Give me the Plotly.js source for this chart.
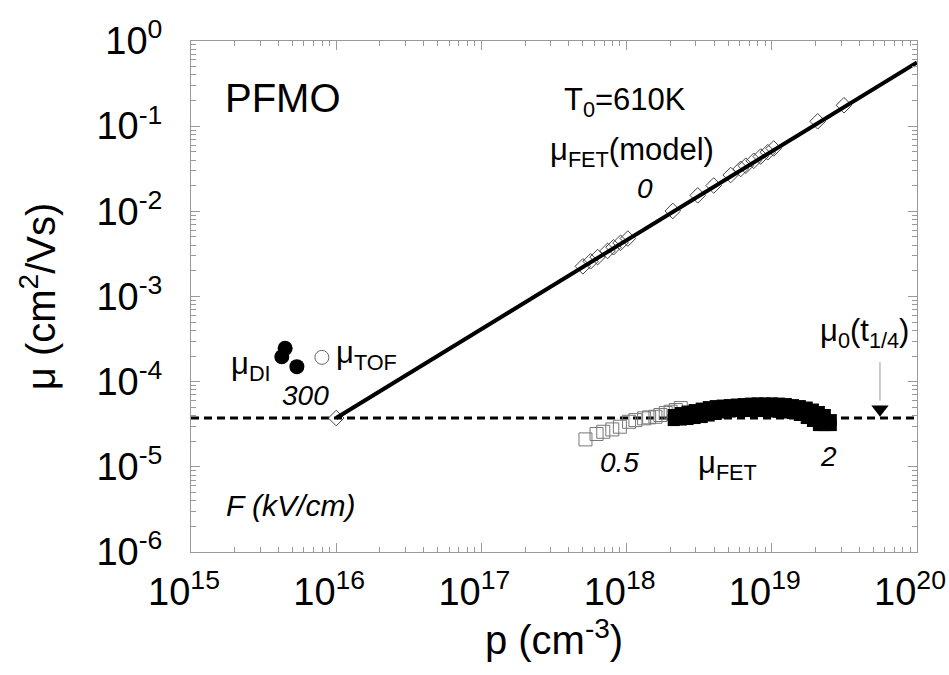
<!DOCTYPE html>
<html>
<head>
<meta charset="utf-8">
<script src="https://cdn.plot.ly/plotly-3.0.1.min.js"></script>
<style>html,body{margin:0;padding:0;background:#fff;}#chart{width:949px;height:675px;}</style>
</head>
<body>
<div id="chart"></div>
<script>
// ---- data ----
// model line mu_FET(model), T0 = 610 K
var modelLineP = [1e16, 1e20];
var modelLineMu = [3.74e-5, 0.56];

// diamonds on the model line
var modelP = [1e16, 5.0e17, 5.65e17, 6.31e17, 7.39e17, 8.13e17, 9.09e17, 1.02e18, 2.08e18, 3.09e18, 3.98e18,
  5.21e18, 6.11e18, 6.62e18, 7.51e18, 8.39e18, 9.38e18, 1.03e19, 2.07e19, 3.14e19];
var modelMu = [3.74e-5, 2.26e-3, 2.59e-3, 2.90e-3, 3.43e-3, 3.79e-3, 4.27e-3, 4.79e-3, 1.01e-2, 1.54e-2, 2.01e-2,
  2.67e-2, 3.15e-2, 3.43e-2, 3.92e-2, 4.40e-2, 4.94e-2, 5.47e-2, 0.114, 0.176];

// mu_0(t_1/4) level (dashed)
var mu0P = [1e15, 1e20];
var mu0Mu = [3.74e-5, 3.74e-5];

// measured mu_FET, open squares (low field)
var fetOpenP = [5.21e17, 6.21e17, 6.91e17, 7.97e17, 8.99e17, 1.04e18, 1.15e18, 1.32e18, 1.43e18, 1.58e18,
  1.71e18, 1.86e18, 2.01e18, 2.18e18, 2.36e18];
var fetOpenMu = [2.10e-5, 2.43e-5, 2.58e-5, 2.75e-5, 2.96e-5, 3.38e-5, 3.54e-5, 3.71e-5, 3.81e-5, 3.87e-5,
  4.06e-5, 4.28e-5, 4.44e-5, 4.64e-5, 4.90e-5];

// measured mu_FET, filled squares
var fetFillP = [2.11e18, 2.36e18, 2.63e18, 2.94e18, 3.29e18, 3.68e18, 4.11e18, 4.59e18, 5.13e18, 5.74e18,
  6.41e18, 7.17e18, 8.01e18, 8.95e18, 1.00e19, 1.12e19, 1.25e19, 1.40e19, 1.56e19, 1.74e19,
  1.92e19, 2.11e19, 2.32e19, 2.55e19,
  2.11e18, 2.36e18, 2.63e18, 2.94e18, 3.29e18, 3.68e18, 4.11e18, 4.59e18, 5.13e18, 5.74e18,
  6.41e18, 7.17e18, 8.01e18, 8.95e18, 1.00e19, 1.12e19, 1.25e19, 1.40e19, 1.56e19, 1.74e19,
  1.92e19, 2.11e19, 2.32e19, 2.55e19];
var fetFillMu = [4.06e-5, 4.28e-5, 4.46e-5, 4.64e-5, 4.83e-5, 5.03e-5, 5.17e-5, 5.24e-5, 5.31e-5, 5.39e-5,
  5.46e-5, 5.53e-5, 5.56e-5, 5.56e-5, 5.56e-5, 5.53e-5, 5.46e-5, 5.31e-5, 5.17e-5, 4.97e-5,
  4.71e-5, 4.40e-5, 4.06e-5, 3.54e-5,
  3.54e-5, 3.59e-5, 3.64e-5, 3.74e-5, 3.84e-5, 4.00e-5, 4.17e-5, 4.34e-5, 4.46e-5, 4.52e-5,
  4.52e-5, 4.52e-5, 4.52e-5, 4.52e-5, 4.46e-5, 4.43e-5, 4.34e-5, 4.28e-5, 4.06e-5, 3.74e-5,
  3.45e-5, 3.09e-5, 3.09e-5, 3.09e-5];

// mu_DI (filled circles) and mu_TOF (open circle)
var diP = [4.45e15, 4.22e15, 5.36e15];
var diMu = [2.46e-4, 1.96e-4, 1.50e-4];
var tofP = [7.97e15];
var tofMu = [1.93e-4];

// mu_0(t_1/4) arrow
var arrowP = [5.56e19, 5.56e19];
var arrowMu = [1.70e-4, 6.0e-5];
var arrowHeadP = [5.56e19];
var arrowHeadMu = [4.75e-5];

// ticks
var xTickVals = [1e15, 1e16, 1e17, 1e18, 1e19, 1e20];
var xTickText = ['10<sup>15</sup>', '10<sup>16</sup>', '10<sup>17</sup>', '10<sup>18</sup>', '10<sup>19</sup>', '10<sup>20</sup>'];
var yTickVals = [1e-6, 1e-5, 1e-4, 1e-3, 1e-2, 1e-1, 1];
var yTickText = ['10<sup>-6</sup>', '10<sup>-5</sup>', '10<sup>-4</sup>', '10<sup>-3</sup>', '10<sup>-2</sup>', '10<sup>-1</sup>', '10<sup>0</sup>'];

var FONT = 'Liberation Sans, Arial, Helvetica, sans-serif';

var traces = [
  {x: mu0P, y: mu0Mu, mode: 'lines', line: {color: '#000', width: 3, dash: '8px,5px'}, hoverinfo: 'skip'},
  {x: fetOpenP, y: fetOpenMu, mode: 'markers',
   marker: {symbol: 'square-open', size: 13, color: '#777', line: {width: 1, color: '#777'}}},
  {x: fetFillP, y: fetFillMu, mode: 'markers',
   marker: {symbol: 'square', size: 12, color: '#000', line: {width: 0}}},
  {x: modelP, y: modelMu, mode: 'markers',
   marker: {symbol: 'diamond-open', size: 12, color: '#444', line: {width: 1, color: '#444'}}},
  {x: modelLineP, y: modelLineMu, mode: 'lines', line: {color: '#000', width: 4}},
  {x: diP, y: diMu, mode: 'markers', marker: {symbol: 'circle', size: 15, color: '#000'}},
  {x: tofP, y: tofMu, mode: 'markers',
   marker: {symbol: 'circle-open', size: 14, color: '#666', line: {width: 1, color: '#666'}}},
  {x: arrowP, y: arrowMu, mode: 'lines', line: {color: '#999', width: 1}},
  {x: arrowHeadP, y: arrowHeadMu, mode: 'markers', marker: {symbol: 'triangle-down', size: 15, color: '#000'}}
];

var L = 191, R = 917, T = 41, B = 552;
function px(x) { return (x - L) / (R - L); }
function py(y) { return (B - y) / (B - T); }
function ann(text, x, y, size, italic) {
  return {text: text, xref: 'paper', yref: 'paper', x: px(x), y: py(y), showarrow: false,
    xanchor: 'center', yanchor: 'middle',
    font: {family: FONT, size: size, color: '#000', style: italic ? 'italic' : 'normal'}};
}

var layout = {
  width: 949, height: 675,
  margin: {l: L, r: 949 - R, t: T, b: 675 - B},
  paper_bgcolor: '#fff', plot_bgcolor: '#fff',
  showlegend: false,
  font: {family: FONT, color: '#000'},
  xaxis: {
    type: 'log', range: [14.99999, 20.00001], tickmode: 'array', tickvals: xTickVals, ticktext: xTickText,
    ticks: 'inside', ticklen: 9, tickcolor: '#999', tickwidth: 1,
    showline: true, linecolor: '#999', linewidth: 1, mirror: 'ticks', showgrid: false, zeroline: false,
    minor: {dtick: 'D1', ticks: 'inside', ticklen: 5, tickcolor: '#999', showgrid: false},
    tickfont: {family: FONT, size: 38, color: '#000'}, ticklabelstandoff: 6,
    ticklabeloverflow: 'allow', ticklabelshift: -7,
    title: {text: 'p (cm<sup>-3</sup>)', font: {family: FONT, size: 40, color: '#000'}, standoff: 12}
  },
  yaxis: {
    type: 'log', range: [-6.00001, 0.00001], tickmode: 'array', tickvals: yTickVals, ticktext: yTickText,
    ticks: 'inside', ticklen: 9, tickcolor: '#999', tickwidth: 1,
    showline: true, linecolor: '#999', linewidth: 1, mirror: 'ticks', showgrid: false, zeroline: false,
    minor: {dtick: 'D1', ticks: 'inside', ticklen: 5, tickcolor: '#999', showgrid: false},
    tickfont: {family: FONT, size: 38, color: '#000'}, ticklabelstandoff: 20,
    ticklabeloverflow: 'allow',
    title: {text: 'μ (cm<sup>2</sup>/Vs)', font: {family: FONT, size: 40, color: '#000'}, standoff: 28}
  },
  annotations: [
    ann('PFMO', 283, 98, 40, false),
    ann('T<sub>0</sub>=610K', 625, 102, 31, false),
    ann('μ<sub>FET</sub>(model)', 632, 152, 31, false),
    ann('0', 645, 188, 28, true),
    ann('μ<sub>DI</sub>', 251, 366, 31, false),
    ann('μ<sub>TOF</sub>', 366, 355, 31, false),
    ann('300', 305, 395, 28, true),
    ann('0.5', 619, 462, 28, true),
    ann('μ<sub>FET</sub>', 727, 465, 31, false),
    ann('2', 828, 456, 28, true),
    ann('μ<sub>0</sub>(t<sub>1/4</sub>)', 864, 333, 31, false),
    ann('F (kV/cm)', 290, 505, 30, true)
  ]
};

Plotly.newPlot('chart', traces, layout, {staticPlot: true});
</script>
</body>
</html>
